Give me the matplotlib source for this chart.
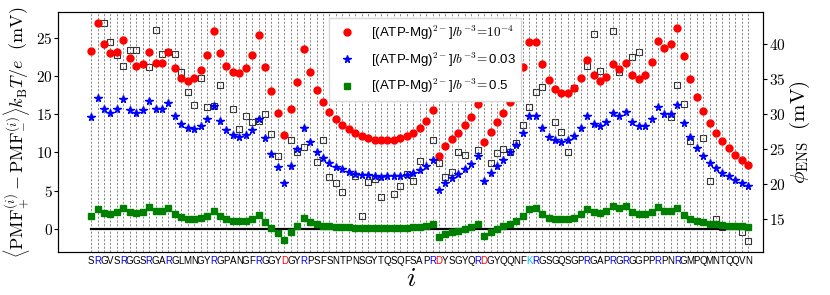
import numpy as np
import matplotlib

matplotlib.use("Agg")

import matplotlib.pyplot as plt
from matplotlib.ticker import FuncFormatter

plt.rcParams["mathtext.fontset"] = "cm"
plt.rcParams["font.family"] = ["Liberation Sans", "DejaVu Sans"]

sequence = "SRGVSRGGSRGARGLMNGYRGPANGFRGGYDGYRPSFSNTPNSGYTQSQFSAPRDYSGYQRDGYQQNFKRGSGQSGPRGAPRGRGGPPRPNRGMPQMNTQQVN"
residue_colors = {"R": "blue", "D": "red", "K": "deepskyblue"}

nan = np.nan

# [(ATP-Mg)2-] = 1e-4
pmf_low = [
    23.27, 27.03, 24.28, 23.01, 23.23, 24.80, 22.40, 21.35, 21.61, 23.14,
    21.74, 21.78, 23.23, 21.04, 19.77, 19.38, 19.73, 20.82, 22.83, 25.90,
    23.10, 21.35, 20.52, 20.47, 21.13, 22.75, 25.42, 21.26, 18.02, 15.18,
    12.34, 15.66, 19.20, 23.58, 20.52, 18.24, 16.58, 15.31, 14.35, 13.56,
    13.04, 12.55, 12.20, 11.94, 11.68, 11.59, 11.59, 11.68, 11.90, 12.16,
    12.51, 13.17, 14.13, 15.53, 9.58, 10.80, 11.77, 12.55, 13.56, 14.70,
    16.32, 11.33, 12.73, 13.95, 15.18, 16.67, 18.64, 21.17, 24.54, 24.54,
    21.61, 19.55, 18.33, 17.76, 17.76, 18.50, 19.77, 22.09, 20.12, 19.42,
    19.90, 21.61, 20.91, 21.78, 20.17, 19.64, 20.21, 21.83, 24.67, 23.71,
    24.23, 26.33, 22.70, 19.69, 17.32, 15.49, 13.91, 12.60, 11.46, 10.59,
    9.71, 8.97, 8.36,
]

# [(ATP-Mg)2-] = 0.03
pmf_mid = [
    14.65, 17.15, 15.66, 15.18, 15.66, 16.97, 15.62, 15.14, 15.53, 16.71,
    15.66, 15.66, 16.45, 14.74, 13.69, 13.17, 13.04, 13.43, 14.44, 16.05,
    14.17, 12.99, 12.25, 12.03, 12.25, 12.99, 14.39, 11.90, 9.84, 8.05,
    5.95, 8.27, 10.45, 13.17, 11.33, 10.06, 9.23, 8.57, 8.09, 7.83,
    7.44, 7.22, 7.09, 7.00, 6.91, 6.82, 6.87, 6.87, 6.96, 7.04,
    7.26, 7.66, 8.22, 8.97, 5.07, 5.99, 6.61, 7.22, 7.79, 8.49,
    9.54, 6.30, 7.31, 8.18, 8.97, 10.02, 11.02, 12.55, 14.74, 14.83,
    13.17, 12.07, 11.59, 11.42, 11.59, 12.16, 13.17, 14.79, 13.74, 13.47,
    13.95, 15.22, 14.79, 15.31, 14.00, 13.43, 13.52, 14.35, 15.92, 15.00,
    15.09, 16.23, 13.82, 12.03, 10.63, 9.54, 8.66, 7.96, 7.35, 6.87,
    6.34, 5.95, 5.56,
]

# [(ATP-Mg)2-] = 0.5
pmf_high = [
    1.71, 2.54, 2.06, 1.92, 2.14, 2.76, 2.19, 2.01, 2.23, 2.84,
    2.36, 2.32, 2.71, 1.92, 1.53, 1.31, 1.31, 1.40, 1.71, 2.36,
    1.62, 1.22, 1.01, 0.96, 1.01, 1.22, 1.79, 0.87, 0.09, -0.61,
    -1.53, -0.48, 0.39, 1.44, 0.87, 0.57, 0.39, 0.31, 0.26, 0.22,
    0.17, 0.13, 0.13, 0.13, 0.13, 0.13, 0.13, 0.13, 0.13, 0.13,
    0.17, 0.22, 0.35, 0.57, -1.14, -0.74, -0.48, -0.26, -0.04, 0.26,
    0.61, -0.92, -0.44, -0.04, 0.31, 0.66, 1.05, 1.66, 2.62, 2.71,
    1.88, 1.40, 1.22, 1.22, 1.27, 1.44, 1.92, 2.54, 2.14, 2.10,
    2.32, 2.97, 2.71, 2.93, 2.23, 1.92, 1.92, 2.19, 2.80, 2.32,
    2.27, 2.67, 1.84, 1.31, 1.05, 0.83, 0.66, 0.57, 0.48, 0.39,
    0.35, 0.31, 0.26,
]

# phi_ENS (mV), right axis
phi_ens = [
    nan, nan, 42.97, 40.21, 38.36, 36.84, 39.17, 39.17, nan, 36.75,
    42.02, 38.55, 38.88, 38.60, 36.03, 33.19, 31.33, 35.09, 31.05, 31.10,
    34.14, nan, 30.72, 27.92, 29.77, 28.91, 29.06, 29.96, 27.11, 24.07,
    nan, 26.30, 24.54, 25.30, nan, 23.21, 26.35, 21.08, 20.13, 18.94,
    nan, 21.13, 15.52, 20.37, 20.75, 18.23, nan, 18.66, 19.80, 21.51,
    20.51, 23.26, nan, 26.30, 23.02, 21.03, 21.79, 24.59, 24.12, nan,
    24.88, nan, 23.02, 24.50, 24.97, 24.64, 25.83, 28.39, 31.05, 33.19,
    33.85, nan, 28.87, 27.39, 24.54, 33.71, nan, 36.89, 41.40, 36.18,
    nan, 41.88, 35.94, nan, 38.17, 38.88, nan, nan, nan, nan,
    29.53, 34.14, 31.43, 26.21, nan, 26.54, 20.46, 15.05, 13.96, nan,
    nan, 13.15, 11.96,
]

x = np.arange(len(sequence))
math_fmt = FuncFormatter(lambda v, pos: f"${v:g}$")

fig = plt.figure(figsize=(8.3, 2.95), dpi=100)
ax = fig.add_axes([0.0702, 0.1458, 0.8491, 0.8135])
ax2 = ax.twinx()
ax.set_zorder(ax2.get_zorder() + 1)
ax.patch.set_visible(False)

ax2.plot(x, phi_ens, "s", ms=5, mfc="none", mec="0.2", mew=0.8, zorder=2)
ax2.set_ylim(10.34, 44.53)
ax2.set_yticks([15, 20, 25, 30, 35, 40])
ax2.yaxis.set_major_formatter(math_fmt)
ax2.tick_params(axis="y", labelsize=11, length=3, pad=1)
ax2.set_ylabel(r"$\phi_{\mathrm{ENS}}\ \ (\mathrm{mV})$", fontsize=15, labelpad=2)

ax.plot([x[0], x[-1]], [0, 0], "k-", lw=1.6, zorder=2)
ax.plot(x, pmf_low, "o", color="red", ms=5, zorder=3,
        label=r"[(ATP-Mg)$^{2-}$]/$b^{-3}\!=\!10^{-4}$")
ax.plot(x, pmf_mid, "*", color="blue", ms=5.5, zorder=3,
        label=r"[(ATP-Mg)$^{2-}$]/$b^{-3}\!=$0.03")
ax.plot(x, pmf_high, "s", color="green", ms=4.5, zorder=3,
        label=r"[(ATP-Mg)$^{2-}$]/$b^{-3}\!=$0.5")

ax.set_xlim(-5.1, 104.3)
ax.set_ylim(-3.06, 28.44)
ax.set_yticks([0, 5, 10, 15, 20, 25])
ax.yaxis.set_major_formatter(math_fmt)
ax.tick_params(axis="y", labelsize=11, length=3, pad=1)

ax.set_xticks(x)
ax.set_xticklabels(list(sequence), fontsize=7)
for lab, aa in zip(ax.get_xticklabels(), sequence):
    lab.set_color(residue_colors.get(aa, "black"))
ax.tick_params(axis="x", length=0, pad=3)
ax.grid(axis="x", ls=(0, (2.5, 2)), lw=0.6, color="0.45")

ax.set_xlabel(r"$i$", fontsize=20, labelpad=0)
ax.set_ylabel(r"$\left\langle \mathrm{PMF}_{+}^{(i)}-\mathrm{PMF}_{-}^{(i)}\right\rangle k_{\mathrm{B}}T/e\ \ (\mathrm{mV})$",
              fontsize=13, labelpad=3)

leg = ax.legend(loc="upper left", bbox_to_anchor=(0.384, 0.975), borderaxespad=0,
                fontsize=9.5, labelspacing=0.65, framealpha=1, edgecolor="0.85",
                fancybox=False)

fig.savefig("out.png", dpi=100)
